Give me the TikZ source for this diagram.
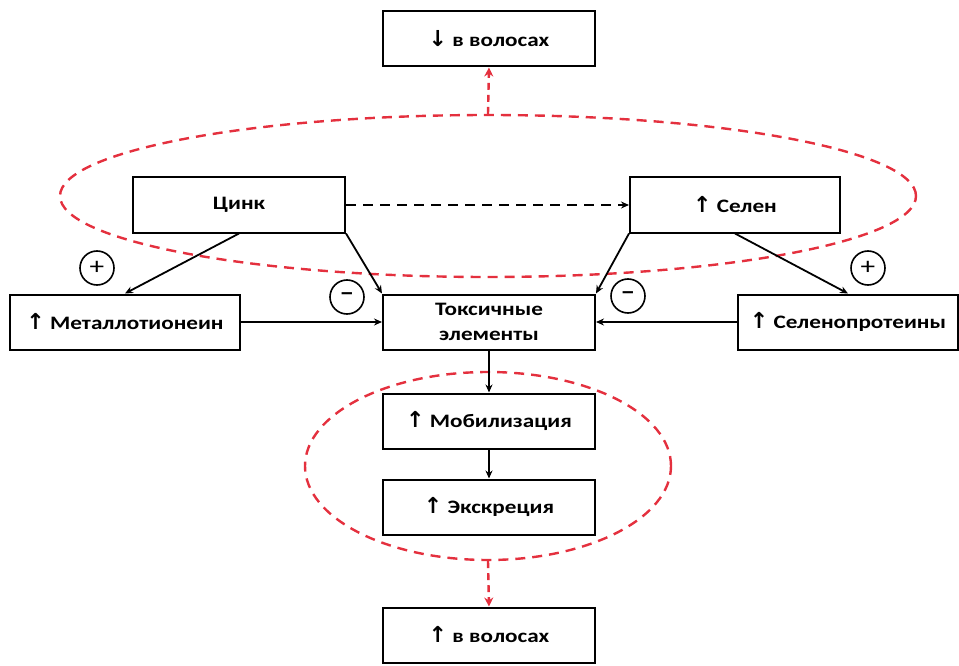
\documentclass[tikz,border=0pt]{standalone}
\usepackage{fontspec}
\setmainfont{Carlito}[FakeStretch=1.22]
\newfontfamily\arrowfont{DejaVu Sans}
\newcommand{\arrup}{{\arrowfont\fontsize{22}{25}\selectfont ↑}}
\newcommand{\arrdown}{{\arrowfont\fontsize{22}{25}\selectfont ↓}}
\usetikzlibrary{positioning,shapes.geometric,arrows.meta}
\definecolor{ringred}{RGB}{228,48,62}
\tikzset{%
    block/.style={
      rectangle,
      draw,
      line width=2pt,
      fill=white,
      minimum width=212,
      minimum height=55,
      inner sep=2,
      align=center,
      font=\fontsize{19}{25}\selectfont\bfseries
    },
    sign/.style={
      circle,
      draw,
      line width=1.6pt,
      minimum size=34,
      inner sep=0,
      font=\fontsize{24}{24}\selectfont
    },
    ring/.style={
      ellipse,
      draw=ringred,
      line width=2.4pt,
      dash pattern=on 10pt off 7pt,
      inner sep=0
    },
    link/.style={
      line width=1.8pt,
      -{Stealth[length=8pt,width=7pt]}
    },
    redlink/.style={
      ringred,
      line width=2.4pt,
      dash pattern=on 7pt off 5pt,
      -{Stealth[length=9pt,width=9pt]}
    }
  }
\begin{document}
\begin{tikzpicture}[x=1pt, y=-1pt]
      \useasboundingbox (0,0) rectangle (959,666);

      \node [ring, minimum width=856, minimum height=162] (topring) at (488,196) {};
      \node [ring, minimum width=366, minimum height=188] (lowring) at (488,466) {};

      \node [block] (hairdown) at (489,39) {\arrdown{} в волосах};

      \node [block] (zinc) at (239,205) {Цинк};
      \node [block, minimum width=210] (selen) at (735,205) {\arrup{} Селен};

      \node [block, minimum width=230] (metal) at (125,322) {\arrup{} Металлотионеин};
      \node [block] (tox) at (489,322) {Токсичные\\элементы};
      \node [block, minimum width=220] (selprot) at (848,322) {\arrup{} Селенопротеины};

      \node [block] (mob) at (489,421) {\arrup{} Мобилизация};
      \node [block] (excr) at (489,507) {\arrup{} Экскреция};

      \node [block] (hairup) at (489,635) {\arrup{} в волосах};

      \node [sign] (plusL) at (97,268) {+};
      \node [sign] (minusL) at (347,297) {\bfseries –};
      \node [sign] (minusR) at (628,296) {\bfseries –};
      \node [sign] (plusR) at (868,268) {+};

      \draw [link, dash pattern=on 10pt off 7pt] (zinc) -- (selen);

      \draw [link] (zinc.south) -- (metal.north);
      \draw [link] (zinc.south east) -- (tox.north west);
      \draw [link] (selen.south west) -- (tox.north east);
      \draw [link] (selen.south) -- (selprot.north);

      \draw [link] (metal) -- (tox);
      \draw [link] (selprot) -- (tox);

      \draw [link] (tox) -- (mob);
      \draw [link] (mob) -- (excr);

      \draw [redlink] (topring.north) -- (hairdown.south);
      \draw [redlink] (lowring.south) -- (hairup.north);

    \end{tikzpicture}
\end{document}
